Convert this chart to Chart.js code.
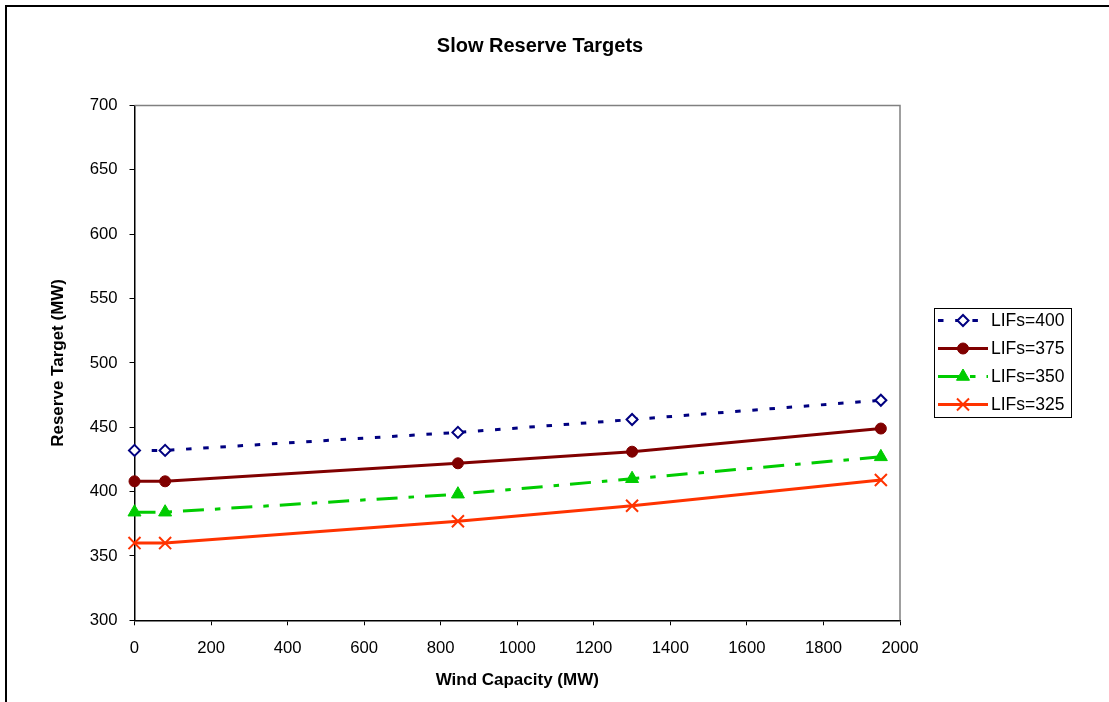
<!DOCTYPE html>
<html>
<head>
<meta charset="utf-8">
<title>Slow Reserve Targets</title>
<script src="https://cdn.jsdelivr.net/npm/chart.js@4/dist/chart.umd.min.js"></script>
<style>
  html, body { margin: 0; padding: 0; background: #fff; }
  #wrap { width: 1109px; height: 702px; position: relative; }
</style>
</head>
<body>
<div id="wrap"><canvas id="c" width="1109" height="702"></canvas></div>
<script>
// Wind capacity (MW) on the x axis
const windCapacity = [0, 80, 845, 1300, 1950];

// Reserve targets (MW) for each LIF level
const lifs400 = [432, 432, 446, 456, 471];
const lifs375 = [408, 408, 422, 431, 449];
const lifs350 = [384, 384, 398, 410, 427];
const lifs325 = [360, 360, 377, 389, 409];

const seriesNames = ['LIFs=400', 'LIFs=375', 'LIFs=350', 'LIFs=325'];

// Axis ranges and tick steps
const xRange = [0, 2000];
const xStep = 200;
const yRange = [300, 700];
const yStep = 50;

const chartTitle = 'Slow Reserve Targets';
const xTitle = 'Wind Capacity (MW)';
const yTitle = 'Reserve Target (MW)';

const FONT = "'Liberation Sans', Arial, Helvetica, sans-serif";
Chart.defaults.font.family = FONT;
Chart.defaults.color = '#000';

const toPoints = vals => windCapacity.map((x, i) => ({ x: x, y: vals[i] }));

const seriesStyles = [
  { color: '#000080', dash: [5.5, 11.7], pointStyle: 'rectRot', radius: 5.5, pointBorderWidth: 2, fill: '#ffffff' },
  { color: '#800000', dash: [], pointStyle: 'circle', radius: 5.5, pointBorderWidth: 1, fill: '#800000' },
  { color: '#00CC00', dash: [21, 11, 5.5, 11], pointStyle: 'triangle', radius: 7.5, pointBorderWidth: 1, fill: '#00CC00' },
  { color: '#FF3300', dash: [], pointStyle: 'crossRot', radius: 8.5, pointBorderWidth: 2, fill: '#FF3300' }
];

const seriesValues = [lifs400, lifs375, lifs350, lifs325];

const datasets = seriesValues.map((vals, i) => {
  const s = seriesStyles[i];
  return {
    label: seriesNames[i],
    data: toPoints(vals),
    borderColor: s.color,
    borderWidth: 3,
    borderDash: s.dash,
    tension: 0,
    fill: false,
    clip: false,
    pointStyle: s.pointStyle,
    pointRadius: s.radius,
    pointHoverRadius: s.radius,
    pointBorderWidth: s.pointBorderWidth,
    pointBorderColor: s.color,
    pointBackgroundColor: s.fill
  };
});

// Outer frame, chart title, plot-area border and the boxed legend
const decorations = {
  id: 'decorations',
  beforeDraw(chart) {
    const ctx = chart.ctx;
    ctx.save();
    ctx.fillStyle = '#fff';
    ctx.fillRect(0, 0, chart.width, chart.height);
    ctx.strokeStyle = '#000';
    ctx.lineWidth = 2;
    ctx.strokeRect(6, 6, chart.width + 20, chart.height + 20);
    ctx.restore();
  },
  beforeDatasetsDraw(chart) {
    const { ctx, chartArea: a } = chart;
    ctx.save();
    ctx.strokeStyle = '#808080';
    ctx.lineWidth = 1.5;
    ctx.beginPath();
    ctx.moveTo(a.left, a.top);
    ctx.lineTo(a.right, a.top);
    ctx.lineTo(a.right, a.bottom);
    ctx.stroke();
    ctx.restore();
  },
  afterDraw(chart) {
    const ctx = chart.ctx;
    ctx.save();
    // title
    ctx.fillStyle = '#000';
    ctx.font = 'bold 20px ' + FONT;
    ctx.textAlign = 'center';
    ctx.textBaseline = 'middle';
    ctx.fillText(chartTitle, 540, 46);

    // legend box
    const bx = 934.5, by = 308.5, bw = 137, bh = 109;
    ctx.strokeStyle = '#000';
    ctx.lineWidth = 1;
    ctx.strokeRect(bx, by, bw, bh);

    ctx.font = '17.5px ' + FONT;
    ctx.textAlign = 'left';
    chart.data.datasets.forEach((ds, i) => {
      const y = 320.5 + i * 28;
      ctx.save();
      ctx.strokeStyle = ds.borderColor;
      ctx.lineWidth = 3;
      ctx.setLineDash(ds.borderDash);
      ctx.beginPath();
      ctx.moveTo(938, y);
      ctx.lineTo(988, y);
      ctx.stroke();
      ctx.setLineDash([]);
      ctx.strokeStyle = ds.pointBorderColor;
      ctx.fillStyle = ds.pointBackgroundColor;
      ctx.lineWidth = ds.pointBorderWidth;
      Chart.helpers.drawPoint(ctx, {
        pointStyle: ds.pointStyle,
        radius: ds.pointRadius,
        rotation: 0,
        borderWidth: ds.pointBorderWidth
      }, 963, y);
      ctx.restore();
      ctx.fillStyle = '#000';
      ctx.fillText(ds.label, 991, y + 1);
    });
    ctx.restore();
  }
};

const plainNumber = v => String(v);

new Chart(document.getElementById('c'), {
  type: 'line',
  data: { datasets: datasets },
  options: {
    responsive: false,
    animation: false,
    devicePixelRatio: 1,
    events: [],
    layout: { padding: { left: 0, top: 105.5, right: 209, bottom: 0 } },
    plugins: {
      legend: { display: false },
      title: { display: false },
      tooltip: { enabled: false }
    },
    scales: {
      x: {
        type: 'linear',
        min: xRange[0],
        max: xRange[1],
        ticks: { stepSize: xStep, font: { size: 16.7 }, color: '#000', padding: 13, maxRotation: 0, callback: plainNumber },
        grid: { drawOnChartArea: false, drawTicks: true, tickLength: 5, color: '#000' },
        border: { display: true, color: '#000', width: 1.5 },
        title: { display: true, text: xTitle, font: { size: 17, weight: 'bold' }, color: '#000', padding: { top: 0, bottom: 11 } },
        afterFit(scale) { scale.height = 702 - 620.3; }
      },
      y: {
        type: 'linear',
        min: yRange[0],
        max: yRange[1],
        ticks: { stepSize: yStep, font: { size: 16.7 }, color: '#000', padding: 12, callback: plainNumber },
        grid: { drawOnChartArea: false, drawTicks: true, tickLength: 5, color: '#000' },
        border: { display: true, color: '#000', width: 1.5 },
        title: { display: true, text: yTitle, font: { size: 17, weight: 'bold' }, color: '#000', padding: { top: 48, bottom: 0 } },
        afterFit(scale) { scale.width = 134.5; }
      }
    }
  },
  plugins: [decorations]
});
</script>
</body>
</html>
